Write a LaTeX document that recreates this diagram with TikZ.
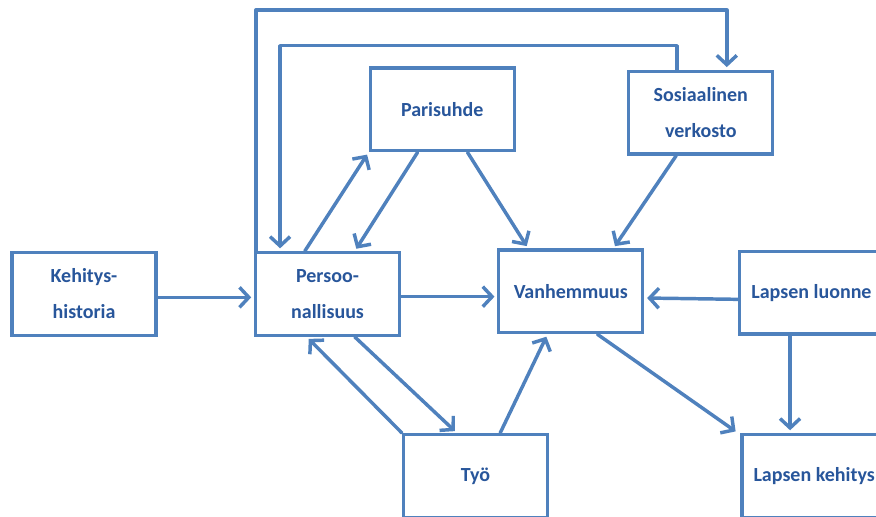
\documentclass[tikz,border=0pt]{standalone}
\usepackage{fontspec}
\setmainfont{Carlito}
\usetikzlibrary{arrows.meta,positioning}
\definecolor{reuna}{RGB}{79,129,189}
\definecolor{teksti}{RGB}{40,86,155}
\begin{document}
\begin{tikzpicture}
			[sininen/.style={rectangle, draw=reuna, line width=2.5pt, fill=white, minimum width=108pt, minimum height=62pt, align=center, text=teksti, font=\fontsize{15}{27}\selectfont\bfseries},
			nuoli/.style	={draw=reuna, line width=2.6pt, line join=round, line cap=round, shorten >=2pt, -{Straight Barb[length=7pt,width=15pt]}},]
			\useasboundingbox (0,0) rectangle (657pt,-387.75pt);
			\node[sininen] at (63pt,-220.5pt)				(keh)	{Kehitys-\\historia};
			\node[sininen,right of=keh,xshift=154.2pt]		(per)	{Persoo-\\nallisuus};
			\node[sininen,above of=per,yshift=110pt,xshift=86pt]	(par)	{Parisuhde};
			\node[sininen,right of=par,xshift=165.5pt,yshift=-2.5pt]	(sos)	{Sosiaalinen\\verkosto};
			\node[sininen,right of=per,xshift=154pt,yshift=2pt]	(van)	{Vanhemmuus};
			\node[sininen,right of=van,xshift=152pt,yshift=-1pt]	(luo)	{Lapsen luonne};
			\node[sininen,below of=per,yshift=-108pt,xshift=111pt]	(tyo)	{Työ};
			\node[sininen,right of=tyo,xshift=225.5pt]		(lke)	{Lapsen kehitys};
			% nuolet
			\draw[nuoli] ([yshift=-2.5pt]keh.east) -- ([yshift=-2.5pt]keh.east -| per.west);
			\draw[nuoli] ([yshift=-2pt]per.east) -- ([yshift=-2pt]per.east -| van.west);
			\draw[nuoli] ([yshift=-5pt]luo.west) -- ([yshift=-5pt]van.east);
			\draw[nuoli] ([xshift=-17pt]per.north) -- (par.south west);
			\draw[nuoli] ([xshift=-18.5pt]par.south) -- ([xshift=20.5pt]per.north);
			\draw[nuoli] ([xshift=19pt]par.south) -- ([xshift=-32pt]van.north);
			\draw[nuoli] ([xshift=-18.5pt]sos.south) -- ([xshift=32pt]van.north);
			\draw[nuoli] ([xshift=20.5pt]per.south) -- ([xshift=-14pt]tyo.north);
			\draw[nuoli] (tyo.north west) -- ([xshift=-15.5pt]per.south);
			\draw[nuoli] ([xshift=18.5pt]tyo.north) -- ([xshift=-17.5pt]van.south);
			\draw[nuoli] ([xshift=20pt]van.south) -- ([xshift=-2pt]lke.north west);
			\draw[nuoli] ([xshift=-16pt]luo.south) -- ([xshift=-16pt]luo.south |- lke.north);
			% silmukat ylhaalla
			\draw[nuoli] ([xshift=-18pt]sos.north) -- ++(0,18pt) -| ([xshift=-35.6pt]per.north);
			\draw[nuoli] ([xshift=-53.6pt]per.north) -- ++(0,180.75pt) -| ([xshift=19.5pt]sos.north);
		\end{tikzpicture}
\end{document}
